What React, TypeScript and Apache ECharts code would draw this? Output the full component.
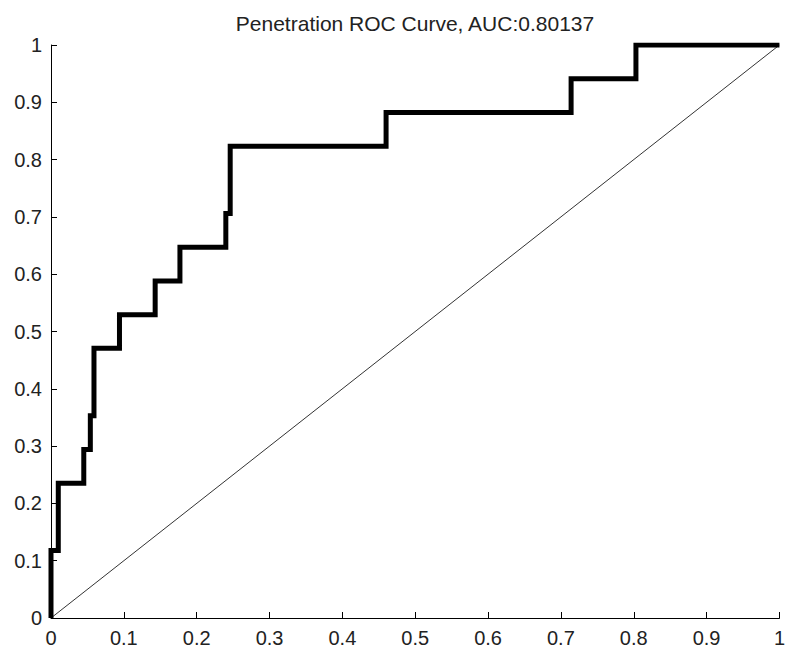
import React, { useEffect, useRef } from "react";
import * as echarts from "echarts";

const titleText = "Penetration ROC Curve, AUC:0.80137";
const fpr = [0, 0, 0.010, 0.045, 0.054, 0.059, 0.094, 0.143, 0.177, 0.240, 0.246, 0.460, 0.714, 0.803, 1];
const tpr = [0, 0.1176, 0.2353, 0.2941, 0.3529, 0.4706, 0.5294, 0.5882, 0.6471, 0.7059, 0.8235, 0.8824, 0.9412, 1, 1];
const diagX = [0, 1];
const diagY = [0, 1];

const FONT = "'Liberation Sans', Arial, sans-serif";

export default function App() {
  const ref = useRef<HTMLDivElement>(null);
  useEffect(() => {
    if (!ref.current) return;
    const chart = echarts.init(ref.current, undefined, { renderer: "svg" });
    const axisCommon = {
      type: "value" as const,
      min: 0,
      max: 1,
      interval: 0.1,
      splitLine: { show: false },
      axisLine: { show: true, onZero: false, lineStyle: { color: "#000", width: 1 } },
      axisTick: { show: true, inside: true, length: 6, lineStyle: { color: "#000", width: 1 } },
      axisLabel: {
        color: "#222",
        fontFamily: FONT,
        fontSize: 20,
        formatter: (v: number) => (Math.round(v * 10) / 10).toString(),
      },
    };
    chart.setOption({
      animation: false,
      backgroundColor: "#fff",
      title: {
        text: titleText,
        left: 410,
        textAlign: "center",
        top: 8,
        textStyle: { fontFamily: FONT, fontSize: 21, fontWeight: "normal", color: "#222" },
      },
      grid: { left: 51, right: 8, top: 45, bottom: 36, containLabel: false },
      xAxis: { ...axisCommon, axisLabel: { ...axisCommon.axisLabel, margin: 10 } },
      yAxis: { ...axisCommon, axisLabel: { ...axisCommon.axisLabel, margin: 9 } },
      series: [
        {
          type: "line",
          data: diagX.map((x, i) => [x, diagY[i]]),
          showSymbol: false,
          symbol: "none",
          lineStyle: { color: "#333", width: 1 },
          silent: true,
        },
        {
          type: "line",
          data: fpr.map((x, i) => [x, tpr[i]]),
          step: "end",
          showSymbol: false,
          symbol: "none",
          lineStyle: { color: "#000", width: 5, join: "miter", cap: "butt" },
          silent: true,
        },
      ],
    });
    return () => chart.dispose();
  }, []);
  return <div ref={ref} style={{ width: 788, height: 654, position: "absolute", left: 0, top: 0 }} />;
}
